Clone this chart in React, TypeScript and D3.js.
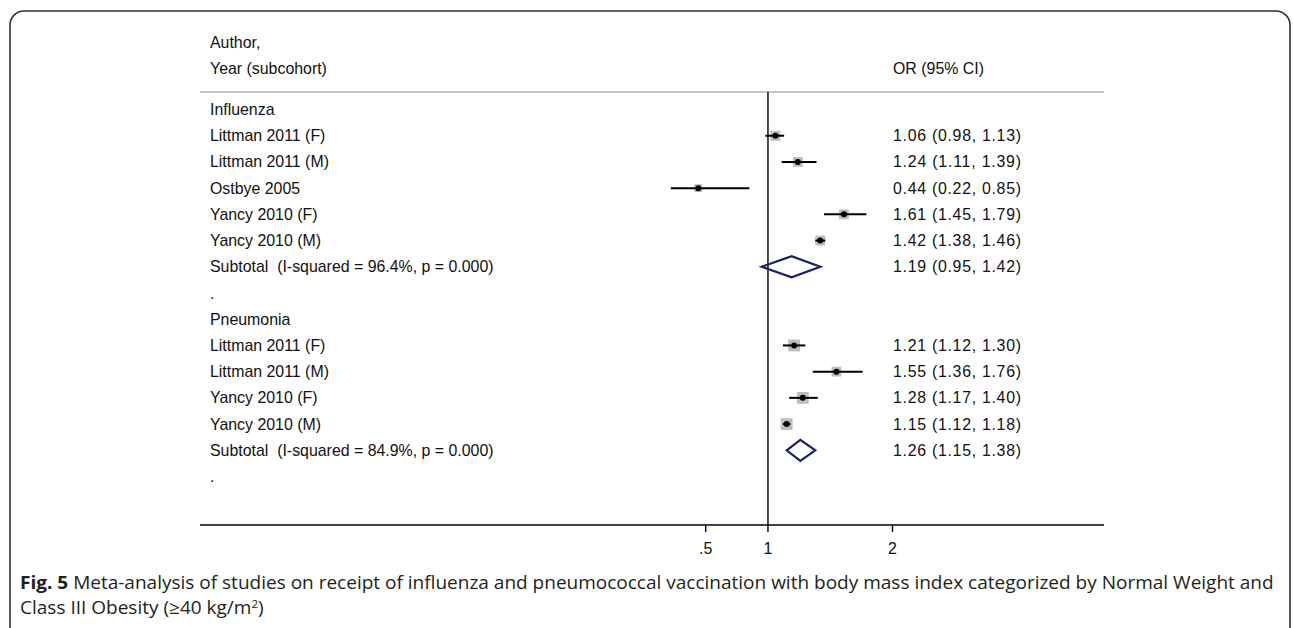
import * as d3 from 'd3';
import { useLayoutEffect, useRef } from 'react';

const W = 1293;
const H = 628;

// influenza studies
const fluStudies = ['Littman 2011 (F)', 'Littman 2011 (M)', 'Ostbye 2005', 'Yancy 2010 (F)', 'Yancy 2010 (M)'];
const fluOR = [1.06, 1.24, 0.44, 1.61, 1.42];
const fluLow = [0.98, 1.11, 0.22, 1.45, 1.38];
const fluHigh = [1.13, 1.39, 0.85, 1.79, 1.46];
const fluWeight = [21, 20, 13, 20, 20];
const fluSubtotal = ['Subtotal  (I-squared = 96.4%, p = 0.000)', 1.19, 0.95, 1.42] as const;

// pneumonia studies
const pneuStudies = ['Littman 2011 (F)', 'Littman 2011 (M)', 'Yancy 2010 (F)', 'Yancy 2010 (M)'];
const pneuOR = [1.21, 1.55, 1.28, 1.15];
const pneuLow = [1.12, 1.36, 1.17, 1.12];
const pneuHigh = [1.3, 1.76, 1.4, 1.18];
const pneuWeight = [29, 20, 29, 29];
const pneuSubtotal = ['Subtotal  (I-squared = 84.9%, p = 0.000)', 1.26, 1.15, 1.38] as const;

const tickValues = [0.5, 1, 2];
const tickLabels = ['.5', '1', '2'];

type Row =
  | { kind: 'group'; label: string }
  | { kind: 'study'; label: string; or: number; lo: number; hi: number; w: number }
  | { kind: 'subtotal'; label: string; or: number; lo: number; hi: number }
  | { kind: 'blank' };

function buildRows(): Row[] {
  const rows: Row[] = [];
  const add = (group: string, names: string[], or: number[], lo: number[], hi: number[], w: number[], sub: readonly [string, number, number, number]) => {
    rows.push({ kind: 'group', label: group });
    names.forEach((n, i) => rows.push({ kind: 'study', label: n, or: or[i], lo: lo[i], hi: hi[i], w: w[i] }));
    rows.push({ kind: 'subtotal', label: sub[0], or: sub[1], lo: sub[2], hi: sub[3] });
    rows.push({ kind: 'blank' });
  };
  add('Influenza', fluStudies, fluOR, fluLow, fluHigh, fluWeight, fluSubtotal);
  add('Pneumonia', pneuStudies, pneuOR, pneuLow, pneuHigh, pneuWeight, pneuSubtotal);
  return rows;
}

const fmt = d3.format('.2f');
const font = '"Liberation Sans", Arial, sans-serif';
const fs = 15.9;

export default function App() {
  const capRef = useRef<SVGGElement>(null);
  const line1Ref = useRef<SVGTextElement>(null);

  const rows = buildRows();
  const x = d3.scaleLinear().domain([0.5, 2]).range([705.7, 892.5]);
  const y = d3.scaleLinear().domain([0, rows.length - 1]).range([109.5, 476.5]);
  const box = d3.scaleSqrt().domain([0, 30]).range([0, 12]);

  const labelX = 210;
  const estX = 893;
  const estW = 128;
  const plotL = 200;
  const plotR = 1104;
  const axisY = 525;
  const sepY = 92;

  useLayoutEffect(() => {
    // squeeze caption to the width it has in the figure
    const t = line1Ref.current;
    if (!t || !capRef.current) return;
    const natural = t.getComputedTextLength();
    const s = 1255 / natural;
    d3.select(capRef.current).attr('transform', `translate(20,0) scale(${s},1)`);
  }, []);

  return (
    <svg
      width={W}
      height={H}
      style={{ position: 'absolute', left: 0, top: 0, background: '#fff' }}
      fontFamily={font}
    >
      <rect x={10} y={11} width={1280} height={630} rx={14} fill="none" stroke="#333" strokeWidth={1.6} />

      {/* header */}
      <g fontSize={fs} fill="#111">
        <text x={labelX} y={42} dy="0.35em">Author,</text>
        <text x={labelX} y={68} dy="0.35em">Year (subcohort)</text>
        <text x={estX} y={68} dy="0.35em">OR (95% CI)</text>
      </g>
      <line x1={plotL} x2={plotR} y1={sepY} y2={sepY} stroke="#b4b4b4" strokeWidth={1.6} />

      {/* null line */}
      <line x1={x(1)} x2={x(1)} y1={sepY} y2={axisY} stroke="#000" strokeWidth={1.4} />

      {rows.map((r, i) => {
        const cy = y(i);
        if (r.kind === 'blank') {
          return (
            <text key={i} x={labelX} y={cy} dy="0.35em" fontSize={fs} fill="#111">.</text>
          );
        }
        if (r.kind === 'group') {
          return (
            <text key={i} x={labelX} y={cy} dy="0.35em" fontSize={fs} fill="#111">{r.label}</text>
          );
        }
        const est = `${fmt(r.or)} (${fmt(r.lo)}, ${fmt(r.hi)})`;
        const estText = (
          <text x={estX} y={cy} dy="0.35em" fontSize={fs} fill="#111" textLength={estW} lengthAdjust="spacing">{est}</text>
        );
        if (r.kind === 'subtotal') {
          const h = 10.5;
          const d = `M${x(r.lo)},${cy} L${x(r.or)},${cy - h} L${x(r.hi)},${cy} L${x(r.or)},${cy + h} Z`;
          return (
            <g key={i}>
              <text x={labelX} y={cy} dy="0.35em" fontSize={fs} fill="#111" style={{ whiteSpace: 'pre' }}>{r.label}</text>
              <path d={d} fill="none" stroke="#1b1f6b" strokeWidth={2.2} strokeLinejoin="miter" />
              {estText}
            </g>
          );
        }
        const s = box(r.w);
        return (
          <g key={i}>
            <text x={labelX} y={cy} dy="0.35em" fontSize={fs} fill="#111">{r.label}</text>
            <rect x={x(r.or) - s / 2} y={cy - s / 2} width={s} height={s} fill="#bdbdbd" />
            <line x1={x(r.lo)} x2={x(r.hi)} y1={cy} y2={cy} stroke="#000" strokeWidth={2} />
            <circle cx={x(r.or)} cy={cy} r={3} fill="#000" />
            {estText}
          </g>
        );
      })}

      {/* axis */}
      <line x1={plotL} x2={plotR} y1={axisY} y2={axisY} stroke="#000" strokeWidth={1.4} />
      {tickValues.map((v, i) => (
        <g key={v} transform={`translate(${x(v)},${axisY})`}>
          <line y1={0} y2={7} stroke="#000" strokeWidth={1.4} />
          <text y={29} textAnchor="middle" fontSize={fs} fill="#111">{tickLabels[i]}</text>
        </g>
      ))}

      {/* caption */}
      <g ref={capRef} transform="translate(20,0)" fontFamily='"Open Sans", sans-serif' fontSize={18} fill="#231f20">
        <text ref={line1Ref} x={0} y={589}>
          <tspan fontWeight="bold">Fig. 5</tspan>
          <tspan> Meta-analysis of studies on receipt of influenza and pneumococcal vaccination with body mass index categorized by Normal Weight and</tspan>
        </text>
        <text x={0} y={614}>
          Class III Obesity (≥40 kg/m<tspan dy={-6} fontSize={11}>2</tspan><tspan dy={6}>)</tspan>
        </text>
      </g>
    </svg>
  );
}
